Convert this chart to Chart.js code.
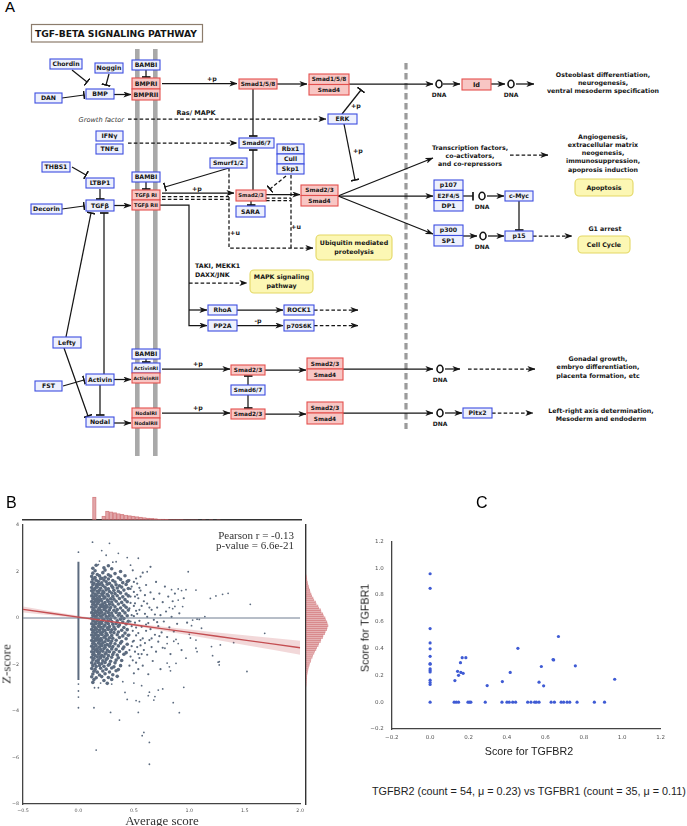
<!DOCTYPE html>
<html><head><meta charset="utf-8">
<script src="https://cdn.jsdelivr.net/npm/chart.js@4.4.1/dist/chart.umd.min.js"></script>
<style>
html,body{margin:0;padding:0;background:#fff;}
#fig{position:relative;width:687px;height:826px;overflow:hidden;font-family:"Liberation Sans",Arial,sans-serif;}
canvas{position:absolute;}
.lbl{position:absolute;white-space:nowrap;line-height:1;}
.serif{font-family:"Liberation Serif","Times New Roman",serif;color:#333;}
</style></head>
<body><div id="fig">
<svg id="pathway" width="687" height="460" viewBox="0 0 687 460" style="position:absolute;left:0;top:0" font-family="DejaVu Sans" fill="#151515"></svg>
<canvas id="bTop" width="308" height="34" style="left:0;top:488px"></canvas>
<canvas id="bMain" width="308" height="311" style="left:0;top:515px"></canvas>
<canvas id="bRight" width="34" height="311" style="left:305px;top:515px"></canvas>
<canvas id="cMain" width="310" height="215" style="left:360px;top:530px"></canvas>
<div class="lbl" style="left:5px;top:-1px;font-size:15px;">A</div>
<div class="lbl" style="left:6px;top:495px;font-size:16px;">B</div>
<div class="lbl" style="left:476px;top:495px;font-size:16px;">C</div>
<div class="lbl serif" style="right:393px;top:531px;font-size:11px;line-height:9.8px;text-align:right;">Pearson r = -0.13<br>p-value = 6.6e-21</div>
<div class="lbl serif" style="left:162px;top:820px;font-size:13px;transform:translate(-50%,-50%);">Average score</div>
<div class="lbl serif" style="left:6px;top:664px;font-size:13px;transform:translate(-50%,-50%) rotate(-90deg);">Z-score</div>
<div class="lbl" style="left:529px;top:751px;font-size:10.7px;color:#222;transform:translate(-50%,-50%);">Score for TGFBR2</div>
<div class="lbl" style="left:365px;top:628px;font-size:10.7px;color:#222;transform:translate(-50%,-50%) rotate(-90deg);">Score for TGFBR1</div>
<div class="lbl" style="left:372px;top:786px;font-size:10.8px;color:#222;">TGFBR2 (count = 54, μ = 0.23) vs TGFBR1 (count = 35, μ = 0.11)</div>
</div>
<script>
// ---------------- DATA: panel B ----------------
const bZeroColumn = [2.42, -2.67];               // dense run of points at average score 0 (y from / to)
const bZeroOutliers = [2.83, -2.84, -3.14, -3.40, -3.86];
const bCore = [
[0.13,1.93],[0.17,1.87],[0.22,1.95],[0.27,1.86],[0.33,1.91],[0.15,2.03],[0.24,2.06],[0.38,2.0],
[0.12,1.79],[0.15,1.74],[0.19,1.81],[0.24,1.75],[0.29,1.8],[0.36,1.73],[0.42,1.82],[0.21,1.71],
[0.13,1.67],[0.16,1.62],[0.2,1.69],[0.23,1.63],[0.27,1.68],[0.31,1.61],[0.38,1.66],[0.45,1.6],
[0.12,1.55],[0.14,1.5],[0.18,1.57],[0.21,1.51],[0.25,1.56],[0.28,1.49],[0.33,1.55],[0.4,1.52],[0.44,1.57],[0.17,1.45],
[0.13,1.43],[0.16,1.39],[0.19,1.44],[0.22,1.4],[0.26,1.45],[0.3,1.38],[0.34,1.43],[0.37,1.39],[0.43,1.44],
[0.12,1.31],[0.15,1.27],[0.17,1.33],[0.2,1.28],[0.24,1.32],[0.27,1.26],[0.31,1.31],[0.35,1.29],[0.39,1.33],[0.45,1.27],[0.14,1.22],
[0.12,1.17],[0.14,1.2],[0.17,1.15],[0.19,1.19],[0.22,1.16],[0.25,1.21],[0.28,1.14],[0.32,1.19],[0.36,1.15],[0.41,1.2],
[0.13,1.07],[0.15,1.03],[0.18,1.08],[0.21,1.04],[0.23,1.09],[0.26,1.02],[0.3,1.07],[0.33,1.05],[0.38,1.08],[0.43,1.03],[0.16,0.99],
[0.12,0.95],[0.14,0.91],[0.16,0.96],[0.19,0.92],[0.22,0.97],[0.24,0.9],[0.27,0.95],[0.31,0.93],[0.35,0.96],[0.4,0.91],[0.45,0.95],
[0.13,0.83],[0.15,0.79],[0.17,0.84],[0.2,0.8],[0.23,0.85],[0.26,0.78],[0.29,0.83],[0.32,0.81],[0.37,0.84],[0.42,0.79],[0.18,0.75],
[0.12,0.71],[0.14,0.67],[0.16,0.72],[0.18,0.68],[0.21,0.73],[0.24,0.66],[0.27,0.71],[0.3,0.69],[0.34,0.72],[0.39,0.67],[0.44,0.7],
[0.13,0.59],[0.15,0.55],[0.17,0.6],[0.2,0.56],[0.22,0.61],[0.25,0.54],[0.28,0.59],[0.31,0.57],[0.36,0.6],[0.41,0.55],[0.23,0.5],
[0.12,0.47],[0.14,0.43],[0.16,0.48],[0.19,0.44],[0.21,0.49],[0.24,0.42],[0.26,0.47],[0.29,0.45],[0.33,0.48],[0.38,0.43],[0.43,0.46],
[0.13,0.35],[0.15,0.31],[0.18,0.36],[0.2,0.32],[0.23,0.37],[0.25,0.3],[0.28,0.35],[0.32,0.33],[0.35,0.36],[0.4,0.31],[0.45,0.34],[0.17,0.27],
[0.12,0.23],[0.14,0.19],[0.16,0.24],[0.19,0.2],[0.21,0.25],[0.24,0.18],[0.27,0.23],[0.3,0.21],[0.34,0.24],[0.37,0.19],[0.42,0.22],
[0.13,0.11],[0.15,0.07],[0.17,0.12],[0.2,0.08],[0.22,0.13],[0.25,0.06],[0.28,0.11],[0.31,0.09],[0.36,0.12],[0.39,0.07],[0.44,0.1],[0.26,0.02],
[0.12,-0.01],[0.14,-0.05],[0.16,0.0],[0.18,-0.04],[0.21,0.01],[0.23,-0.06],[0.26,-0.01],[0.29,-0.03],[0.33,0.0],[0.38,-0.05],[0.41,-0.02],
[0.13,-0.13],[0.15,-0.17],[0.17,-0.12],[0.2,-0.16],[0.22,-0.11],[0.25,-0.18],[0.27,-0.13],[0.3,-0.15],[0.35,-0.12],[0.4,-0.17],[0.45,-0.14],[0.19,-0.21],
[0.12,-0.25],[0.14,-0.29],[0.16,-0.24],[0.19,-0.28],[0.21,-0.23],[0.24,-0.3],[0.27,-0.25],[0.31,-0.27],[0.34,-0.24],[0.37,-0.29],[0.43,-0.26],
[0.13,-0.37],[0.15,-0.41],[0.18,-0.36],[0.2,-0.4],[0.23,-0.35],[0.26,-0.42],[0.28,-0.37],[0.32,-0.39],[0.36,-0.36],[0.41,-0.41],[0.16,-0.46],
[0.12,-0.49],[0.14,-0.53],[0.16,-0.48],[0.19,-0.52],[0.22,-0.47],[0.24,-0.54],[0.27,-0.49],[0.3,-0.51],[0.33,-0.48],[0.39,-0.53],[0.44,-0.5],
[0.13,-0.61],[0.15,-0.65],[0.17,-0.6],[0.2,-0.64],[0.22,-0.59],[0.25,-0.66],[0.29,-0.61],[0.32,-0.63],[0.36,-0.6],[0.42,-0.65],[0.21,-0.7],
[0.12,-0.73],[0.14,-0.77],[0.16,-0.72],[0.18,-0.76],[0.21,-0.71],[0.24,-0.78],[0.26,-0.73],[0.3,-0.75],[0.35,-0.72],[0.4,-0.77],[0.45,-0.74],
[0.13,-0.85],[0.15,-0.89],[0.17,-0.84],[0.2,-0.88],[0.23,-0.83],[0.25,-0.9],[0.28,-0.85],[0.31,-0.87],[0.37,-0.84],[0.43,-0.89],[0.18,-0.94],
[0.12,-0.97],[0.14,-1.01],[0.16,-0.96],[0.19,-1.0],[0.21,-0.95],[0.24,-1.02],[0.27,-0.97],[0.3,-0.99],[0.34,-0.96],[0.39,-1.01],
[0.13,-1.09],[0.15,-1.13],[0.18,-1.08],[0.2,-1.12],[0.22,-1.07],[0.26,-1.14],[0.29,-1.09],[0.33,-1.11],[0.38,-1.08],[0.44,-1.13],[0.24,-1.18],
[0.12,-1.21],[0.14,-1.25],[0.16,-1.2],[0.19,-1.24],[0.21,-1.19],[0.24,-1.26],[0.28,-1.21],[0.31,-1.23],[0.36,-1.2],[0.41,-1.25],
[0.13,-1.33],[0.15,-1.37],[0.17,-1.32],[0.2,-1.36],[0.23,-1.31],[0.26,-1.38],[0.3,-1.33],[0.34,-1.35],[0.4,-1.32],[0.17,-1.42],
[0.12,-1.45],[0.14,-1.49],[0.17,-1.44],[0.19,-1.48],[0.22,-1.43],[0.25,-1.5],[0.28,-1.45],[0.32,-1.47],[0.37,-1.44],[0.43,-1.49],
[0.13,-1.57],[0.15,-1.61],[0.18,-1.56],[0.21,-1.6],[0.24,-1.55],[0.27,-1.62],[0.31,-1.57],[0.35,-1.59],[0.41,-1.56],[0.2,-1.66],
[0.12,-1.69],[0.14,-1.73],[0.17,-1.68],[0.2,-1.72],[0.23,-1.67],[0.26,-1.74],[0.3,-1.69],[0.36,-1.71],
[0.13,-1.81],[0.16,-1.85],[0.18,-1.8],[0.22,-1.84],[0.25,-1.79],[0.29,-1.86],[0.34,-1.81],[0.39,-1.83],
[0.12,-1.93],[0.15,-1.97],[0.18,-1.92],[0.21,-1.96],[0.24,-1.91],[0.28,-1.98],[0.33,-1.93],
[0.13,-2.05],[0.16,-2.09],[0.19,-2.04],[0.23,-2.08],[0.27,-2.03],[0.32,-2.1],[0.38,-2.05],
[0.12,-2.17],[0.15,-2.21],[0.2,-2.16],[0.25,-2.2],[0.3,-2.15],[0.36,-2.22],
[0.14,-2.29],[0.17,-2.33],[0.22,-2.28],[0.28,-2.32],[0.34,-2.27],
[0.13,-2.41],[0.19,-2.45],[0.24,-2.4],[0.31,-2.44],
[0.12,-2.53],[0.16,-2.57],[0.21,-2.52],[0.27,-2.56],[0.35,-2.51],
[0.14,-2.65],[0.23,-2.69],[0.3,-2.64],[0.13,-2.77],[0.26,-2.81],
[0.13,2.14],[0.23,2.16],[0.3,2.12],[0.16,2.27],[0.27,2.25]
];
const bMid = [
[0.46,1.62],[0.48,1.35],[0.47,0.92],[0.46,0.41],[0.47,-0.15],[0.46,-0.72],[0.48,-1.21],[0.47,-1.66],[0.46,-2.05],[0.49,2.05],
[0.5,1.12],[0.51,0.63],[0.5,0.08],[0.52,-0.41],[0.5,-0.98],[0.51,-1.45],[0.52,-1.92],[0.5,-2.38],[0.53,1.48],[0.52,0.31],
[0.54,0.85],[0.55,-0.12],[0.54,-0.65],[0.56,-1.18],[0.55,-1.72],[0.54,-2.2],[0.56,1.78],[0.57,0.52],[0.56,1.18],[0.57,-0.38],
[0.58,-0.88],[0.59,-1.38],[0.58,-2.05],[0.6,0.98],[0.6,0.18],[0.61,-0.55],[0.6,-1.08],[0.62,-1.58],[0.61,1.42],[0.62,0.62],
[0.63,-0.22],[0.64,-0.95],[0.63,-2.42],[0.65,1.1],[0.66,0.35],[0.65,-0.48],[0.66,-1.25],[0.67,-1.85],[0.68,0.82],[0.68,-0.08],
[0.69,-0.72],[0.7,1.55],[0.7,-1.45],[0.71,0.45],[0.72,-0.35],[0.72,-1.02],[0.73,1.05],[0.74,0.12],[0.74,-2.2],[0.75,-0.62],
[0.76,0.68],[0.76,-1.28],[0.77,-0.15],[0.78,1.35],[0.79,0.28],[0.8,-0.82],[0.81,0.92],[0.82,-0.4],[0.83,-1.55],[0.84,0.05],
[0.85,0.72],[0.86,-0.58],[0.87,1.05],[0.89,-0.25],[0.91,0.2],[0.93,-1.38],[0.95,0.85],[0.98,-0.2],[0.65,2.2],[0.58,1.95],
[0.48,0.12],[0.49,-0.55],[0.47,1.25],[0.46,-1.38],[0.5,0.52],[0.53,-1.25],[0.51,-0.2],[0.55,0.35],[0.53,1.0],[0.57,-1.55],
[0.49,-1.82],[0.52,1.7],[0.62,0.05],[0.59,0.72],[0.61,-0.28],[0.64,0.45],[0.66,-0.88],[0.69,0.15],[0.71,-0.18],[0.73,-0.78],
[0.47,0.65],[0.48,-0.35],[0.49,-1.02],[0.5,1.55],[0.51,0.92],[0.52,-0.75],[0.53,0.18],[0.54,-1.55],[0.55,1.3],[0.56,-0.95]
];
const bSparse = [
[0.127,3.26],[0.28,3.21],[0.21,2.9],[0.25,2.7],[0.36,2.78],[0.54,2.57],[0.44,2.6],[0.31,2.4],[0.34,2.42],[0.19,2.45],
[0.18,2.3],[0.47,2.27],[0.62,1.99],[0.99,1.99],[1.35,1.06],[1.30,1.02],[1.24,0.95],[1.19,0.84],[1.55,0.59],[1.68,-0.66],
[1.40,-1.06],[1.28,-1.16],[1.21,-1.62],[1.27,-1.88],[1.27,-2.02],[1.14,0.06],[1.09,-0.06],[1.11,-0.44],[1.06,1.2],[0.97,1.22],
[0.93,1.18],[0.9,1.25],[0.84,1.22],[0.9,0.77],[0.94,0.49],[0.82,0.45],[0.85,0.4],[0.87,0.5],[1.07,-0.05],[1.03,-0.09],
[1.02,-0.33],[1.0,-0.7],[1.01,-0.86],[1.06,-0.95],[1.07,-1.45],[1.06,-1.3],[1.2,-1.23],[0.88,-0.92],[0.86,-1.0],[0.9,-1.1],
[0.78,-1.3],[0.8,-1.1],[0.97,-1.73],[0.88,-1.95],[0.82,-2.1],[1.26,-1.9],[1.52,-2.3],[0.83,-2.27],[0.80,-1.94],[0.14,-3.86],
[0.29,-4.06],[0.37,-4.39],[0.54,-4.06],[0.59,-4.92],[0.575,-5.06],[0.64,-5.35],[0.16,-5.68],[0.64,-6.29],[0.91,-4.07],[0.855,-3.64],
[0.95,-2.98],[0.76,-3.05],[0.68,-3.53],[0.44,-3.5],[0.52,-3.55],[0.55,-3.6],[0.42,-3.2],[0.63,-3.34],[0.69,-3.38],[0.72,-3.1],
[0.57,-2.91],[0.64,-3.19],[0.5,-2.8],[0.30,-2.84],[0.40,-2.74],[0.145,-3.0],[0.18,-3.0],[0.2,-2.8]
];
// regression fit and 95% band half-widths
const regX    = [-0.5, -0.25, 0, 0.25, 0.5, 0.75, 1.0, 1.25, 1.5, 1.75, 2.0];
const regY    = [0.37, 0.205, 0.04, -0.125, -0.29, -0.455, -0.62, -0.785, -0.95, -1.115, -1.28];
const regHalf = [0.13, 0.09, 0.055, 0.035, 0.05, 0.085, 0.125, 0.165, 0.21, 0.255, 0.30];
// marginal histograms
const topHistX = [0.02,0.12,0.16,0.20,0.24,0.28,0.32,0.36,0.40,0.44,0.48,0.52,0.56,0.60,0.64,0.68,0.72,0.76,0.80,0.84,0.88,0.92,0.96,1.00,1.04,1.08,1.12,1.20,1.28,1.36];
const topHistH = [23,4,9,8.2,7.3,6.4,5.6,4.9,4.3,3.8,3.3,2.8,2.4,2.0,1.6,1.3,1.0,0.8,0.6,0.5,0.4,0.3,0.3,0.2,0.2,0.15,0.15,0.1,0.1,0.1];
const rightHistY = [2.45,2.35,2.25,2.15,2.05,1.95,1.85,1.75,1.65,1.55,1.45,1.35,1.25,1.15,1.05,0.95,0.85,0.75,0.65,0.55,0.45,0.35,0.25,0.15,0.05,-0.05,-0.15,-0.25,-0.35,-0.45,-0.55,-0.65,-0.75,-0.85,-0.95,-1.05,-1.15,-1.25,-1.35,-1.45,-1.55,-1.65,-1.75,-1.85,-1.95,-2.05,-2.15,-2.25,-2.35,-2.45,-2.55,-2.65,-2.75,-2.85,-2.95,-3.05];
const rightHistW = [0.4,0.7,1.0,1.5,1.8,2.5,2.9,3.8,4.2,5.2,5.8,7.2,8.0,9.6,10.3,12.1,12.8,14.6,15.2,16.9,17.5,19.2,19.6,21.0,21.4,22.2,21.3,20.8,19.4,18.7,17.2,16.6,15.0,14.5,12.9,12.3,10.7,10.1,8.7,8.1,6.8,6.3,5.1,4.7,3.6,3.3,2.5,2.2,1.6,1.4,1.0,0.8,0.5,0.4,0.3,0.2];
const bXTicks = [-0.5, 0.0, 0.5, 1.0, 1.5, 2.0];
const bYTicks = [4, 2, 0, -2, -4, -6, -8];

// ---------------- DATA: panel C ----------------
const cTGFBR2 = [0,0,0,0,0,0,0,0,0,0,0,0,0,0,0,
 0.129,0.143,0.148,0.158,0.160,0.167,0.172,0.186,0.297,0.376,0.417,0.457,0.567,0.579,0.591,0.643,0.640,0.668,0.756,0.961,
 0.125,0.136,0.148,0.197,0.205,0.212,0.287,0.374,0.4,0.412,0.43,0.445,0.508,0.525,0.544,0.553,0.567,0.63,0.647,0.682,0.695,0.713,0.727,0.765,0.855,0.908];
const cTGFBR1 = [0.958,0.849,0.549,0.442,0.398,0.342,0.288,0.283,0.249,0.237,0.225,0.164,0.146,0.132,0,
 0.161,0.23,0.2,0.295,0.222,0.332,0.215,0.332,0.124,0.154,0.222,0.402,0.149,0.266,0.122,0.315,0.318,0.49,0.271,0.171,
 0,0,0,0,0,0,0,0,0,0,0,0,0,0,0,0,0,0,0,0,0,0,0,0,0,0];
const cTicks = [-0.2, 0.0, 0.2, 0.4, 0.6, 0.8, 1.0, 1.2];

// ---------------- panel A diagram (static pathway drawing) ----------------
(function(){
  const INK = '#151515';
  let s = `<defs>
  <marker id="ma" viewBox="0 0 8 6" refX="7.6" refY="3" markerWidth="8" markerHeight="6" markerUnits="userSpaceOnUse" orient="auto"><path d="M0,0 L8,3 L0,6 L2.2,3 z" fill="${INK}"/></marker>
  <marker id="mb" viewBox="0 0 2 9" refX="1" refY="4.5" markerWidth="2" markerHeight="9" markerUnits="userSpaceOnUse" orient="auto"><path d="M1,0 L1,9" stroke="${INK}" stroke-width="1.7"/></marker>
  </defs>`;
  const pl = (pts,end,dash,w) => { s += `<polyline points="${pts.map(p=>p.join(',')).join(' ')}" fill="none" stroke="${INK}" stroke-width="${w||1.25}"${dash?' stroke-dasharray="3.6,2.2"':''}${end?` marker-end="url(#m${end})"`:''}/>`; };
  const tx = (x,y,t,o={}) => { s += `<text x="${x}" y="${y}" font-size="${o.fs||6.3}" text-anchor="${o.a||'middle'}" font-weight="${o.w||'bold'}"${o.i?' font-style="italic"':''} fill="${o.c||INK}">${t}</text>`; };
  const bx = (x,y,w,h,t,k,fs) => {
    const st = k==='r' ? '#e4504e' : '#3c4ee0', fi = k==='r' ? '#f8c6c4' : '#edf0fd';
    fs = fs || 6.2;
    s += `<rect x="${x}" y="${y}" width="${w}" height="${h}" fill="${fi}" stroke="${st}" stroke-width="1.1"/>`;
    tx(x+w/2, (y+h/2+fs*0.36).toFixed(2), t, {fs});
  };
  const yb = (x,y,w,h,lines) => {
    s += `<rect x="${x}" y="${y}" width="${w}" height="${h}" rx="4" fill="#fcf7b4" stroke="#e3d865" stroke-width="1.1"/>`;
    const n = lines.length, y0 = y + h/2 - (n-1)*4.3 + 2.2;
    lines.forEach((l,i)=>tx(x+w/2, y0+i*8.6, l, {fs:6.3}));
  };
  const dna = (x,y,lx,ly) => {
    s += `<ellipse cx="${x}" cy="${y}" rx="3" ry="3.7" fill="#fff" stroke="${INK}" stroke-width="1.6"/>`;
    tx(lx===undefined?x:lx, ly===undefined?y+12.5:ly, 'DNA', {fs:6});
  };
  // membranes and nuclear border
  s += `<rect x="135" y="49" width="4.6" height="407" fill="#a9a9a9"/><rect x="153" y="49" width="4.6" height="407" fill="#a9a9a9"/>`;
  s += `<line x1="406" y1="63" x2="406" y2="429" stroke="#9b9b9b" stroke-width="3.2" stroke-dasharray="6.5,3.5"/>`;
  // title
  s += `<rect x="31.5" y="24.5" width="171" height="17.5" fill="#fff" stroke="#8c7c6c" stroke-width="1.2"/>`;
  s += `<text x="35" y="37" font-size="9.2" font-weight="bold" textLength="162" lengthAdjust="spacingAndGlyphs">TGF-BETA SIGNALING PATHWAY</text>`;
  // ---- lines
  pl([[72,70],[87,82]],'b'); pl([[109,74],[106,85]],'b'); pl([[62,98],[84,95]],'b');
  pl([[114,94.5],[131,94.5]],'a'); pl([[146,70],[146,77]],'b');
  pl([[162,83.5],[237,83.5]],'a'); pl([[277,84],[307,84]],'a');
  pl([[349,84],[433,84]],'a'); pl([[443,84],[460,84]],'a'); pl([[491,84],[505,84]],'a'); pl([[516,84],[534,84]],'a');
  pl([[253,89],[253,136]],'b');
  pl([[128,119],[326,119]],'a',true);
  pl([[342,114],[361,90]],'b'); pl([[344,124],[355,180]],'b');
  pl([[128,143],[237,143]],'a',true);
  pl([[253,190],[253,150]],'b'); pl([[251,201],[251,205]],'b');
  pl([[229,168],[165,187]],'b'); pl([[286,176],[270,189]],'b',true);
  pl([[146,182],[146,189]],'b');
  pl([[162,193],[234,193]],'a');
  pl([[162,196.5],[229,196.5]],null,true); pl([[162,199.3],[229,199.3]],null,true);
  pl([[266,194.5],[300,194.5]],'a');
  pl([[266,198],[291,198]],null,true); pl([[266,200.6],[291,200.6]],null,true);
  pl([[229,168],[229,248],[313,248]],'a',true);
  pl([[291,175],[291,248]],null,true);
  pl([[114,205.5],[131,205.5]],'a');
  pl([[72,167],[86,175]],'b'); pl([[100,189],[100,199]],'b'); pl([[62,209],[84,206]],'b');
  pl([[160,205],[189,205],[189,325.5],[207,325.5]],'a'); pl([[189,310],[207,310]],'a');
  pl([[189,283],[247,283]],'a',true);
  pl([[237,310],[283,310]],'a'); pl([[237,325.5],[283,325.5]],'a');
  pl([[314,310],[358,310]],'a',true); pl([[314,325.5],[358,325.5]],'a',true);
  pl([[338,196],[433,158]],'a'); pl([[338,196],[433,196]],'a'); pl([[338,196],[433,234]],'a');
  pl([[510,155],[548,155]],'a',true);
  pl([[463,196],[473,196]],'b'); pl([[487,196],[504,196]],'a');
  pl([[519,201],[519,230]],'b');
  pl([[463,236],[477,236]],'a'); pl([[488,236],[504,236]],'a');
  pl([[533,236],[572,236]],'a',true);
  pl([[66,337],[91,213]],'b'); pl([[64,348],[88,416]],'b');
  pl([[104,374],[104,213]],'b');
  pl([[63,386],[84,380]],'b'); pl([[100,385],[100,415]],'b');
  pl([[114,379.5],[131,379.5]],'a'); pl([[146,359],[146,362]],'b');
  pl([[162,369],[230,369]],'a'); pl([[265,370],[306,370]],'a');
  pl([[343,369],[433,369]],'a'); pl([[445,369],[460,369]],'a'); pl([[468,369],[535,369]],'a',true);
  pl([[248,385],[248,376]],'b'); pl([[248,395],[248,408]],'b');
  pl([[114,423],[131,423]],'a');
  pl([[162,413],[230,413]],'a'); pl([[265,414],[306,414]],'a');
  pl([[343,413],[433,413]],'a'); pl([[445,413],[462,413]],'a'); pl([[492,413],[533,413]],'a',true);
  // ---- DNA markers
  dna(439,84); dna(511,84); dna(482,196,482,208.5); dna(483,236,482,249); dna(440,369); dna(440,413);
  // ---- boxes
  bx(50,59,32,10,'Chordin'); bx(95,63,28,10,'Noggin'); bx(132,60,28,10,'BAMBI');
  bx(132,78,28,11,'BMPRI','r'); bx(132,89,28,11,'BMPRII','r');
  bx(86,89,28,10,'BMP'); bx(35,93,27,10,'DAN');
  bx(239,79,38,10,'Smad1/5/8','r',5.8);
  bx(309,74,40,10.5,'Smad1/5/8','r',5.8); bx(309,84.5,40,10.5,'Smad4','r',5.8);
  bx(328,114,29,10,'ERK'); bx(462,79,29,11,'Id','r',6.5);
  bx(96,131,27,10,'IFNγ'); bx(96,144,27,10,'TNFα');
  bx(239,138,35,10,'Smad6/7',null,5.8);
  bx(277,144,27,10,'Rbx1'); bx(277,154,27,10,'Cull'); bx(277,164,27,10,'Skp1');
  bx(210,158,37,10,'Smurf1/2',null,6);
  bx(42,162,28,10,'THBS1'); bx(86,178,28,10,'LTBP1'); bx(132,172,28,10,'BAMBI');
  bx(132,190,28,10,'TGFβ RI','r',5); bx(132,200,28,10,'TGFβ RII','r',5);
  bx(86,200,28,11,'TGFβ'); bx(31,204,31,10,'Decorin');
  bx(236,190,30,11,'Smad2/3','r',5.2); bx(236,206,29,11,'SARA');
  bx(301,185,37,10.5,'Smad2/3','r',5.8); bx(301,195.5,37,10.5,'Smad4','r',5.8);
  yb(316,235,76,25,['Ubiquitin mediated','proteolysis']);
  bx(434,180,29,10.3,'p107'); bx(434,190.3,29,10.3,'E2F4/5',null,5.8); bx(434,200.6,29,10.4,'DP1');
  bx(505,191,28,10,'c-Myc'); yb(575,179,58,17,['Apoptosis']);
  bx(434,225,29,10.5,'p300'); bx(434,235.5,29,10.5,'SP1');
  bx(505,231,28,10,'p15'); yb(578,236,52,17,['Cell Cycle']);
  yb(250,270,63,23,['MAPK signaling','pathway']);
  bx(208,305,29,10,'RhoA'); bx(284,305,30,10,'ROCK1'); bx(208,320,29,11,'PP2A'); bx(284,320,30,11,'p70S6K',null,5.8);
  bx(53,337,28,11,'Lefty'); bx(132,349,28,10,'BAMBI');
  bx(132,363,28,10,'ActivinRI',null,4.8); bx(132,373,28,10,'ActivinRII','r',4.6);
  bx(35,381,27,10,'FST'); bx(86,374,28,11,'Activin');
  bx(231,365,34,10,'Smad2/3','r',5.8);
  bx(307,358,36,11,'Smad2/3','r',5.8); bx(307,369,36,11,'Smad4','r',5.8);
  bx(231,385,34,10,'Smad6/7',null,5.8);
  bx(132,408,28,10,'NodalRI','r',4.9); bx(132,418,28,10,'NodalRII','r',4.9);
  bx(86,417,28,10,'Nodal');
  bx(231,409,34,10,'Smad2/3','r',5.8);
  bx(307,402,36,11,'Smad2/3','r',5.8); bx(307,413,36,11,'Smad4','r',5.8);
  bx(463,408,29,10,'Pitx2');
  // ---- free text
  tx(212,81,'+p'); tx(356,108,'+p'); tx(358,153,'+p'); tx(197,190.5,'+p');
  tx(198,366,'+p'); tx(198,410,'+p'); tx(258,322.5,'-p');
  tx(235,235,'+u'); tx(296,229,'+u');
  tx(124,121.5,'Growth factor',{a:'end',w:'normal',i:true,fs:6.6,c:'#333'});
  tx(196,115,'Ras/ MAPK',{fs:6.5});
  tx(195,268,'TAKI, MEKK1',{a:'start'}); tx(195,277,'DAXX/JNK',{a:'start'});
  ['Transcription factors,','co-activators,','and co-repressors'].forEach((t,i)=>tx(470,149.5+i*8.4,t));
  ['Angiogenesis,','extracellular matrix','neogenesis,','immunosuppression,','apoprosis induction'].forEach((t,i)=>tx(603,138.5+i*8.3,t));
  ['Osteoblast differentiation,','neurogenesis,','ventral mesoderm specification'].forEach((t,i)=>tx(603,76.5+i*8.3,t));
  tx(605,230.5,'G1 arrest');
  ['Gonadal growth,','embryo differentiation,','placenta formation, etc'].forEach((t,i)=>tx(598,361+i*8.4,t));
  ['Left-right axis determination,','Mesoderm and endoderm'].forEach((t,i)=>tx(601,412.5+i*8.4,t));
  document.getElementById('pathway').innerHTML = s;
})();

// ---------------- Charts ----------------
Chart.defaults.font.family = 'DejaVu Sans';
Chart.defaults.animation = false;
Chart.defaults.plugins.legend.display = false;
Chart.defaults.plugins.tooltip.enabled = false;
const fmt1 = v => Math.abs(v) < 1e-9 ? '0.0' : (v < 0 ? '\u2212' : '') + Math.abs(v).toFixed(1);
const fmt0 = v => Math.abs(v) < 1e-9 ? '0' : (v < 0 ? '\u2212' : '') + Math.abs(Math.round(v));
const PT = '#5c6b7f', RED = '#c44e52';
const xy = arr => arr.map(p => ({x: p[0], y: p[1]}));

// B main scatter
new Chart(document.getElementById('bMain'), {
  type: 'scatter',
  data: { datasets: [
    { type:'line', data: regX.map((x,i)=>({x, y: regY[i]})), borderColor: RED, borderWidth: 1.4, pointRadius: 0, fill: false },
    { type:'line', data: regX.map((x,i)=>({x, y: regY[i] + regHalf[i]})), borderWidth: 0, borderColor: 'rgba(0,0,0,0)', pointRadius: 0, fill: '+1', backgroundColor: 'rgba(196,78,82,0.22)' },
    { type:'line', data: regX.map((x,i)=>({x, y: regY[i] - regHalf[i]})), borderWidth: 0, borderColor: 'rgba(0,0,0,0)', pointRadius: 0, fill: false },
    { type:'line', data: [{x:-0.5,y:0},{x:2.0,y:0}], borderColor: '#6f7d90', borderWidth: 1, pointRadius: 0, fill: false },
    { type:'line', data: bZeroColumn.map(y=>({x:0,y})), borderColor: PT, borderWidth: 2, pointRadius: 0, fill: false },
    { data: bZeroOutliers.map(y=>({x:0,y})), backgroundColor: PT, pointRadius: 0.9, borderWidth: 0 },
    { data: xy(bSparse), backgroundColor: PT, pointRadius: 0.9, borderWidth: 0 },
    { data: xy(bMid), backgroundColor: PT, pointRadius: 1.1, borderWidth: 0 },
    { data: xy(bCore), backgroundColor: PT, pointRadius: 1.8, borderWidth: 0 }
  ]},
  options: {
    responsive: false, events: [],
    layout: { padding: { left: 0, top: 10, right: 7, bottom: 0 } },
    scales: {
      x: { type:'linear', min:-0.5, max:2.0, afterFit: s => { s.height = 22; },
           afterBuildTicks: s => { s.ticks = bXTicks.map(v=>({value:v})); },
           grid: { display:false, drawTicks:false }, border: { display:true, color:'#444', width:1.3 },
           ticks: { font:{size:4.8}, color:'#555', padding:4, maxRotation:0, callback: fmt1 } },
      y: { type:'linear', min:-8, max:4, afterFit: s => { s.width = 23; },
           afterBuildTicks: s => { s.ticks = bYTicks.map(v=>({value:v})); },
           grid: { display:false, drawTicks:false }, border: { display:true, color:'#444', width:1.3 },
           ticks: { font:{size:4.8}, color:'#555', padding:4, callback: fmt0 } }
    }
  }
});

// B top marginal histogram
new Chart(document.getElementById('bTop'), {
  type: 'bar',
  data: { datasets: [{ data: topHistX.map((x,i)=>({x, y: topHistH[i]})), backgroundColor: 'rgba(206,112,116,0.62)', borderColor: 'rgba(196,78,82,0.55)', borderWidth: 0.4, barPercentage: 1, categoryPercentage: 1 }]},
  options: {
    responsive: false, events: [],
    layout: { padding: { left: 23, top: 0, right: 7, bottom: 0 } },
    scales: {
      x: { type:'linear', min:-0.5, max:2.0, afterFit: s => { s.height = 2; }, grid:{display:false, drawTicks:false}, ticks:{display:false}, border:{display:true, color:'#333', width:1.4} },
      y: { display:false, min:0, max:32 }
    }
  }
});

// B right marginal histogram
new Chart(document.getElementById('bRight'), {
  type: 'bar',
  data: { datasets: [{ data: rightHistY.map((y,i)=>({x: rightHistW[i], y})), backgroundColor: 'rgba(214,128,131,0.55)', borderColor: 'rgba(196,78,82,0.4)', borderWidth: 0.3, barPercentage: 1, categoryPercentage: 1 }]},
  options: {
    indexAxis: 'y', responsive: false, events: [],
    layout: { padding: { left: 0, top: 10, right: 4, bottom: 22 } },
    scales: {
      y: { type:'linear', min:-8, max:4, afterFit: s => { s.width = 1; }, grid:{display:false, drawTicks:false}, ticks:{display:false}, border:{display:true, color:'#333', width:1.4} },
      x: { display:false, min:0, max:29 }
    }
  }
});

// C scatter
new Chart(document.getElementById('cMain'), {
  type: 'scatter',
  data: { datasets: [{ data: cTGFBR2.map((x,i)=>({x, y: cTGFBR1[i]})), backgroundColor: '#3f5bd4', pointRadius: 1.6, borderWidth: 0 }]},
  options: {
    responsive: false, events: [],
    layout: { padding: { left: 0, top: 7.7, right: 8.3, bottom: 0 } },
    scales: {
      x: { type:'linear', min:-0.2, max:1.2, afterFit: s => { s.height = 16; },
           afterBuildTicks: s => { s.ticks = cTicks.map(v=>({value:v})); },
           grid:{display:false, drawTicks:false}, border:{display:true, color:'#444', width:1.3},
           ticks:{ font:{size:5.5}, color:'#555', padding:5, maxRotation:0, callback: fmt1 } },
      y: { type:'linear', min:-0.2, max:1.2, afterFit: s => { s.width = 31.7; },
           afterBuildTicks: s => { s.ticks = cTicks.map(v=>({value:v})); },
           grid:{display:false, drawTicks:false}, border:{display:true, color:'#444', width:1.3},
           ticks:{ font:{size:5.5}, color:'#555', padding:8, callback: fmt1 } }
    }
  }
});
</script>
</body></html>
